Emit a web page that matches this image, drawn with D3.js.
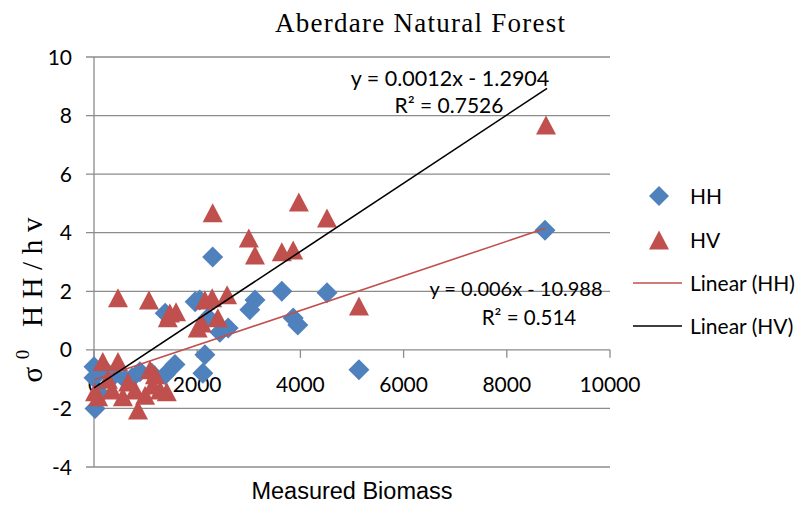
<!DOCTYPE html>
<html>
<head>
<meta charset="utf-8">
<script src="https://cdn.jsdelivr.net/npm/d3@7/dist/d3.min.js"></script>
<style>
  html, body { margin: 0; padding: 0; background: #fff; }
  svg { display: block; }
</style>
</head>
<body>
<svg id="chart" width="812" height="505"></svg>
<script>
// ---- Data ----
const hhBiomass = [0, 20, 0, 400, 740, 1120, 1380, 1570, 2110, 2150, 1380, 2050, 2210, 2440, 2600, 2300, 3120, 3020, 3640, 3860, 3950, 4515, 5135, 8740, 210, 600, 890, 120, 1960];
const hhSigma   = [-0.58, -2.0, -0.95, -0.85, -0.95, -0.8, -0.85, -0.5, -0.8, -0.17, 1.25, 1.7, 1.1, 0.6, 0.75, 3.17, 1.7, 1.37, 2.0, 1.09, 0.85, 1.95, -0.68, 4.08, -0.7, -1.0, -0.75, -1.5, 1.64];

const hvBiomass = [170, 465, 465, 1065, 1470, 1590, 1430, 2150, 2290, 2580, 2090, 2400, 2300, 3970, 4515, 3000, 3120, 3640, 3860, 5135, 8760, 80, 20, 350, 560, 795, 1140, 853, 1410, 1085, 1180, 270, 660, 1280, 990, 2010];
const hvSigma   = [-0.4, -0.4, 1.78, 1.7, 1.26, 1.3, 1.1, 1.7, 1.78, 1.88, 0.92, 1.1, 4.68, 5.05, 4.5, 3.82, 3.24, 3.35, 3.41, 1.5, 7.68, -1.6, -1.43, -1.37, -1.6, -1.37, -1.2, -2.05, -1.43, -0.68, -0.85, -1.0, -1.1, -1.37, -1.55, 0.75];

// trend line end points (as drawn in the picture)
const hhTrendX = [0, 8750];
const hhTrendY = [-1.02, 4.15];
const hvTrendX = [0, 8780];
const hvTrendY = [-1.30, 8.93];

const xTicks = [0, 2000, 4000, 6000, 8000, 10000];
const yTicks = [-4, -2, 0, 2, 4, 6, 8, 10];

const seriesNames = ["HH", "HV", "Linear (HH)", "Linear (HV)"];
const hhEquation = ["y = 0.006x - 10.988", "R² = 0.514"];
const hvEquation = ["y = 0.0012x - 1.2904", "R² = 0.7526"];
const titleText = "Aberdare Natural Forest";
const xTitle = "Measured Biomass";

// ---- Drawing ----
const svg = d3.select("#chart");
const blue = "#4F81BD", red = "#C0504D", grid = "#8c8c8c";
const numFont = "Lato, 'Open Sans', sans-serif";
const serif = "'Liberation Serif', 'Times New Roman', serif";

const x = d3.scaleLinear().domain([0, 10000]).range([94, 610]);
const y = d3.scaleLinear().domain([-4, 10]).range([467, 57]);

// gridlines with left tick stubs
svg.append("g").selectAll("line").data(yTicks).join("line")
  .attr("x1", 86).attr("x2", 610)
  .attr("y1", d => y(d)).attr("y2", d => y(d))
  .attr("stroke", grid).attr("stroke-width", 1.3);

// vertical axis
svg.append("line").attr("x1", x(0)).attr("x2", x(0))
  .attr("y1", y(10)).attr("y2", y(-4))
  .attr("stroke", grid).attr("stroke-width", 1.3);

// x tick marks on the y=0 axis
svg.append("g").selectAll("line").data(xTicks).join("line")
  .attr("x1", d => x(d)).attr("x2", d => x(d))
  .attr("y1", y(0)).attr("y2", y(0) + 8)
  .attr("stroke", grid).attr("stroke-width", 1.3);

// y tick labels
svg.append("g").selectAll("text").data(yTicks).join("text")
  .attr("x", 72).attr("y", d => y(d)).attr("dy", "0.36em")
  .attr("text-anchor", "end")
  .attr("font-family", numFont).attr("font-size", 21)
  .text(d => d);

// x tick labels
svg.append("g").selectAll("text").data(xTicks).join("text")
  .attr("x", d => x(d)).attr("y", y(0) + 42)
  .attr("text-anchor", "middle")
  .attr("font-family", numFont).attr("font-size", 21)
  .text(d => d);

// markers
const diamond = (cx, cy, r) => `M${cx},${cy - r}L${cx + r},${cy}L${cx},${cy + r}L${cx - r},${cy}Z`;
const triangle = (cx, cy, w, h) => `M${cx},${cy - h / 2}L${cx + w / 2},${cy + h / 2}L${cx - w / 2},${cy + h / 2}Z`;

svg.append("g").selectAll("path").data(d3.range(hhBiomass.length)).join("path")
  .attr("d", i => diamond(x(hhBiomass[i]), y(hhSigma[i]), 10.5))
  .attr("fill", blue);

svg.append("g").selectAll("path").data(d3.range(hvBiomass.length)).join("path")
  .attr("d", i => triangle(x(hvBiomass[i]), y(hvSigma[i]), 20, 19))
  .attr("fill", red);

// trend lines
svg.append("line")
  .attr("x1", x(hhTrendX[0])).attr("y1", y(hhTrendY[0]))
  .attr("x2", x(hhTrendX[1])).attr("y2", y(hhTrendY[1]))
  .attr("stroke", red).attr("stroke-width", 1.6);
svg.append("line")
  .attr("x1", x(hvTrendX[0])).attr("y1", y(hvTrendY[0]))
  .attr("x2", x(hvTrendX[1])).attr("y2", y(hvTrendY[1]))
  .attr("stroke", "#000").attr("stroke-width", 1.6);

// equations
svg.append("text").attr("x", 450).attr("y", 86).attr("text-anchor", "middle")
  .attr("font-family", numFont).attr("font-size", 21.5).text(hvEquation[0]);
svg.append("text").attr("x", 449).attr("y", 113).attr("text-anchor", "middle")
  .attr("font-family", numFont).attr("font-size", 21).text(hvEquation[1]);
svg.append("text").attr("x", 516).attr("y", 296).attr("text-anchor", "middle")
  .attr("font-family", numFont).attr("font-size", 20).text(hhEquation[0]);
svg.append("text").attr("x", 529).attr("y", 325).attr("text-anchor", "middle")
  .attr("font-family", numFont).attr("font-size", 20.5).text(hhEquation[1]);

// legend
const legY = [196, 240, 283, 326];
svg.append("path").attr("d", diamond(659, legY[0], 10)).attr("fill", blue);
svg.append("path").attr("d", triangle(659, legY[1], 20, 19)).attr("fill", red);
svg.append("line").attr("x1", 633).attr("x2", 682).attr("y1", legY[2]).attr("y2", legY[2])
  .attr("stroke", red).attr("stroke-width", 1.6);
svg.append("line").attr("x1", 633).attr("x2", 682).attr("y1", legY[3]).attr("y2", legY[3])
  .attr("stroke", "#000").attr("stroke-width", 1.6);
svg.append("g").selectAll("text").data(seriesNames).join("text")
  .attr("x", 690).attr("y", (d, i) => legY[i]).attr("dy", "0.36em")
  .attr("font-family", numFont).attr("font-size", 21)
  .text(d => d);

// title
svg.append("text").attr("x", 420).attr("y", 32).attr("text-anchor", "middle")
  .attr("font-family", serif).attr("font-size", 27)
  .attr("textLength", 290).attr("lengthAdjust", "spacing")
  .text(titleText);

// y title: sigma^0 HH/hv
const yt = svg.append("text")
  .attr("transform", "translate(42,300) rotate(-90)")
  .attr("text-anchor", "middle")
  .attr("font-family", serif).attr("font-size", 29)
  .attr("textLength", 165).attr("lengthAdjust", "spacing");
yt.append("tspan").text("σ");
yt.append("tspan").attr("dy", -13).attr("font-size", 19).text("0");
yt.append("tspan").attr("dy", 13).text(" HH/hv");

// x title
svg.append("text").attr("x", 352).attr("y", 499).attr("text-anchor", "middle")
  .attr("font-family", "'Liberation Sans', Arial, sans-serif").attr("font-size", 23.5)
  .text(xTitle);
</script>
</body>
</html>
